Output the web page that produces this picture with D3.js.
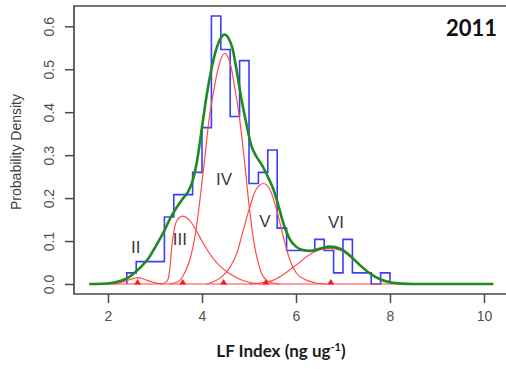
<!DOCTYPE html>
<html>
<head>
<meta charset="utf-8">
<script src="https://cdn.jsdelivr.net/npm/d3@7/dist/d3.min.js"></script>
<style>
  html, body { margin: 0; padding: 0; background: #ffffff; }
  svg { display: block; }
</style>
</head>
<body>
<svg id="chart" width="506" height="369"></svg>
<script>
// ---------------- DATA ----------------
const title = "2011";
const xTicks = [2, 4, 6, 8, 10];
const yTicks = [0.0, 0.1, 0.2, 0.3, 0.4, 0.5, 0.6];

// histogram bin edges and densities (blue step outline)
const histEdges = [2.4, 2.6, 2.8, 3.0, 3.2, 3.4, 3.6, 3.8, 4.0, 4.2, 4.4, 4.6, 4.8, 5.0,
                   5.2, 5.4, 5.6, 5.8, 6.0, 6.2, 6.4, 6.6, 6.8, 7.0, 7.2, 7.4, 7.6, 7.8, 8.0];
const histDensity = [0.026, 0.052, 0.052, 0.052, 0.156, 0.208, 0.208, 0.260, 0.364, 0.624,
                     0.546, 0.390, 0.520, 0.234, 0.260, 0.312, 0.130, 0.078, 0.078, 0.078,
                     0.104, 0.078, 0.026, 0.104, 0.026, 0.026, 0.000, 0.026];

// total fitted mixture (green)
const totalX = [1.6, 1.9, 2.1, 2.25, 2.4, 2.54, 2.7, 2.85, 3.0, 3.18, 3.32, 3.46, 3.6, 3.7, 3.8,
                3.9, 4.0, 4.1, 4.2, 4.3, 4.4, 4.48, 4.56, 4.65, 4.74, 4.84, 4.95, 5.05, 5.15,
                5.27, 5.4, 5.52, 5.62, 5.73, 5.87, 6.0, 6.15, 6.3, 6.5, 6.72, 6.94, 7.15, 7.36,
                7.57, 7.79, 8.0, 8.25, 8.5, 10.2];
const totalY = [0, 0.0005, 0.003, 0.007, 0.013, 0.024, 0.040, 0.058, 0.085, 0.120, 0.152, 0.178,
                0.200, 0.214, 0.240, 0.290, 0.365, 0.440, 0.500, 0.545, 0.573, 0.581, 0.573,
                0.548, 0.495, 0.430, 0.370, 0.322, 0.298, 0.278, 0.250, 0.220, 0.185, 0.142,
                0.104, 0.087, 0.079, 0.077, 0.082, 0.087, 0.082, 0.066, 0.044, 0.025, 0.011,
                0.004, 0.0008, 0, 0];

// component curves (red)
const compII_X  = [2.1, 2.3, 2.45, 2.63, 2.8, 2.95, 3.15];
const compII_Y  = [0, 0.004, 0.010, 0.015, 0.010, 0.004, 0];
const compIII_X = [3.1, 3.22, 3.28, 3.32, 3.36, 3.41, 3.48, 3.59, 3.68, 3.78, 3.88, 4.0, 4.12,
                   4.25, 4.4, 4.6, 4.8, 5.0, 5.25];
const compIII_Y = [0, 0.003, 0.012, 0.040, 0.090, 0.128, 0.150, 0.158, 0.154, 0.142, 0.124,
                   0.100, 0.078, 0.058, 0.040, 0.023, 0.011, 0.004, 0];
const compIV_X  = [3.3, 3.5, 3.65, 3.75, 3.85, 3.95, 4.05, 4.15, 4.25, 4.35, 4.48, 4.6, 4.7,
                   4.8, 4.9, 5.0, 5.1, 5.2, 5.3, 5.45, 5.65];
const compIV_Y  = [0, 0.006, 0.030, 0.060, 0.110, 0.190, 0.285, 0.382, 0.450, 0.505, 0.537,
                   0.514, 0.455, 0.385, 0.290, 0.185, 0.100, 0.048, 0.018, 0.004, 0];
const compV_X   = [4.1, 4.3, 4.45, 4.6, 4.74, 4.88, 5.02, 5.15, 5.31, 5.45, 5.59, 5.73, 5.87,
                   6.01, 6.22, 6.4, 6.65];
const compV_Y   = [0, 0.008, 0.020, 0.040, 0.071, 0.126, 0.180, 0.220, 0.234, 0.219, 0.172,
                   0.110, 0.056, 0.025, 0.009, 0.003, 0];
const compVI_X  = [5.0, 5.3, 5.52, 5.7, 5.87, 6.05, 6.23, 6.4, 6.58, 6.72, 6.94, 7.15, 7.36,
                   7.57, 7.79, 8.0, 8.25];
const compVI_Y  = [0, 0.003, 0.009, 0.020, 0.033, 0.048, 0.064, 0.075, 0.082, 0.083, 0.079,
                   0.064, 0.043, 0.024, 0.010, 0.004, 0];

// component means (red triangles) and labels
const compMeans  = [2.63, 3.59, 4.46, 5.36, 6.74];
const compLabels = ["II", "III", "IV", "V", "VI"];
const labelX = [2.59, 3.53, 4.47, 5.34, 6.85];
const labelY = [0.072, 0.091, 0.230, 0.133, 0.130];

// ---------------- DRAW ----------------
const svg = d3.select("#chart");
const x = d3.scaleLinear().domain([2, 10]).range([108, 484]);
const y = d3.scaleLinear().domain([0, 0.6]).range([284, 26.3]);

const axisColor = "#4a4a4a";
const tickFont = "'Liberation Sans', Arial, sans-serif";

// plot box (right edge lies outside the picture)
svg.append("path")
  .attr("d", `M515,6 H74 V294 H515`)
  .attr("fill", "none").attr("stroke", axisColor).attr("stroke-width", 1.7);

// x axis
const xAxis = svg.append("g").attr("transform", "translate(0,294)")
  .call(d3.axisBottom(x).tickValues(xTicks).tickSize(9).tickPadding(8).tickFormat(d3.format("d")));
xAxis.select(".domain").remove();
xAxis.selectAll("line").attr("stroke", axisColor).attr("stroke-width", 1.5);
xAxis.selectAll("text").attr("font-family", tickFont).attr("font-size", 14).attr("fill", "#505050");

// y axis
const yAxis = svg.append("g").attr("transform", "translate(74,0)")
  .call(d3.axisLeft(y).tickValues(yTicks).tickSize(9).tickFormat(d3.format(".1f")));
yAxis.select(".domain").remove();
yAxis.selectAll("line").attr("stroke", axisColor).attr("stroke-width", 1.5);
yAxis.selectAll("text")
  .attr("font-family", tickFont).attr("font-size", 14).attr("fill", "#505050")
  .attr("x", null).attr("dy", null)
  .attr("text-anchor", "middle")
  .attr("transform", "translate(-20,0) rotate(-90)");

// axis titles
svg.append("text")
  .attr("transform", "translate(21,152) rotate(-90)")
  .attr("text-anchor", "middle")
  .attr("font-family", tickFont).attr("font-size", 14).attr("fill", "#404040")
  .text("Probability Density");

const xl = svg.append("text")
  .attr("x", 281).attr("y", 357)
  .attr("text-anchor", "middle")
  .attr("font-family", "Lato, 'Open Sans', sans-serif").attr("font-weight", "bold")
  .attr("font-size", 17).attr("fill", "#1a1a1a");
xl.append("tspan").text("LF Index (ng ug");
xl.append("tspan").attr("dy", -6).attr("font-size", 11).text("-1");
xl.append("tspan").attr("dy", 6).text(")");

svg.append("text")
  .attr("x", 497).attr("y", 36)
  .attr("text-anchor", "end")
  .attr("font-family", "Lato, 'Open Sans', sans-serif").attr("font-weight", "bold")
  .attr("font-size", 22).attr("fill", "#111")
  .text(title);

// histogram step outline
let hp = `M${x(histEdges[0])},${y(0)}`;
histDensity.forEach((d, i) => {
  hp += ` V${y(d)} H${x(histEdges[i + 1])}`;
});
hp += ` V${y(0)}`;
svg.append("path").attr("d", hp)
  .attr("fill", "none").attr("stroke", "#3c3cff").attr("stroke-width", 1.6)
  .attr("stroke-linejoin", "miter");

// red components
const line = d3.line().x(d => x(d[0])).y(d => y(d[1])).curve(d3.curveMonotoneX);
const comps = [
  [compII_X, compII_Y], [compIII_X, compIII_Y], [compIV_X, compIV_Y],
  [compV_X, compV_Y], [compVI_X, compVI_Y]
];
svg.append("path")
  .attr("d", line([[1.6, 0], [10.2, 0]]))
  .attr("fill", "none").attr("stroke", "#ff4040").attr("stroke-width", 1.2);
comps.forEach(([xs, ys]) => {
  svg.append("path")
    .attr("d", line(xs.map((v, i) => [v, ys[i]])))
    .attr("fill", "none").attr("stroke", "#ff4a4a").attr("stroke-width", 1.2);
});

// triangles at component means
svg.selectAll("path.tri").data(compMeans).enter().append("path")
  .attr("class", "tri")
  .attr("d", d => `M${x(d) - 3.5},${y(0) + 0.5} L${x(d) + 3.5},${y(0) + 0.5} L${x(d)},${y(0) - 5} Z`)
  .attr("fill", "#ff1a1a");

// total fit (green)
svg.append("path")
  .attr("d", line(totalX.map((v, i) => [v, totalY[i]])))
  .attr("fill", "none").attr("stroke", "#1f8a1f").attr("stroke-width", 2.6)
  .attr("stroke-linejoin", "round");

// component labels
svg.selectAll("text.clab").data(compLabels).enter().append("text")
  .attr("class", "clab")
  .attr("x", (d, i) => x(labelX[i]))
  .attr("y", (d, i) => y(labelY[i]))
  .attr("text-anchor", "middle")
  .attr("font-family", tickFont).attr("font-size", 17).attr("fill", "#3a3a3a")
  .text(d => d);
</script>
</body>
</html>
